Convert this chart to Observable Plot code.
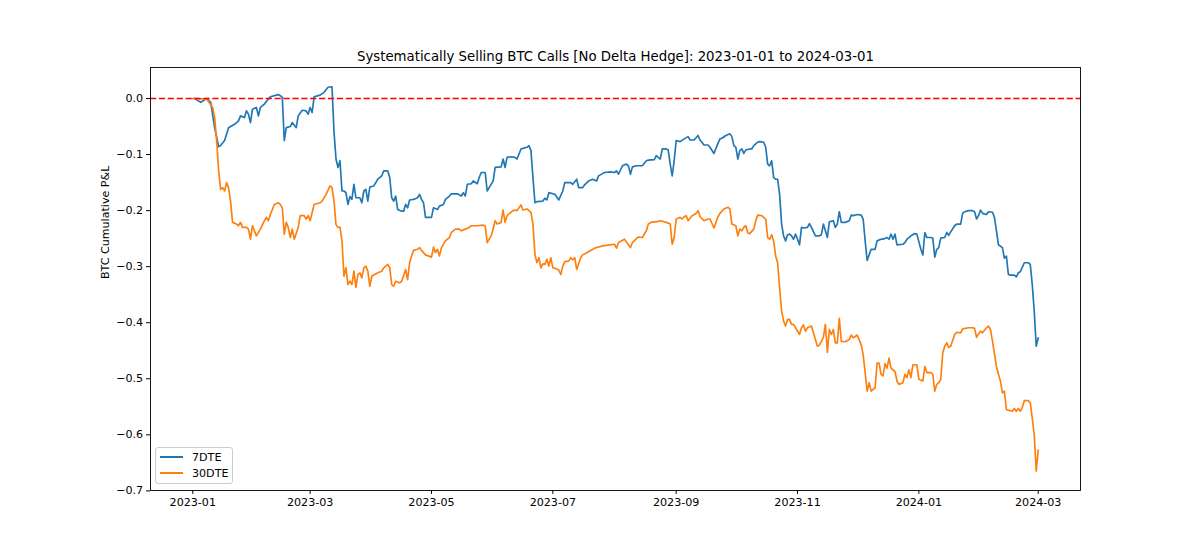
<!DOCTYPE html>
<html>
<head>
<meta charset="utf-8">
<script src="https://cdn.jsdelivr.net/npm/d3@7"></script>
<script src="https://cdn.jsdelivr.net/npm/@observablehq/plot@0.6"></script>
<style>
  body { margin: 0; background: #fff; }
  #wrap { position: relative; width: 1200px; height: 560px; font-family: "DejaVu Sans", sans-serif; }
  #legend { position: absolute; left: 155px; top: 447px; width: 78px; height: 37px; box-sizing: border-box;
            border: 1px solid #cccccc; border-radius: 3px; background: rgba(255,255,255,0.8); }
  .lrow { position: absolute; left: 4px; height: 14px; display: flex; align-items: center; font-size: 11.1px; color: #000; }
  .lline { width: 23px; height: 1.7px; margin-right: 9px; }
</style>
</head>
<body>
<div id="wrap"></div>
<script>
const chartTitle = "Systematically Selling BTC Calls [No Delta Hedge]: 2023-01-01 to 2024-03-01";
const yLabel = "BTC Cumulative P&L";
const seriesNames = ["7DTE", "30DTE"];
const seriesColors = ["#1f77b4", "#ff7f0e"];
const xTicks = ["2023-01-01", "2023-03-01", "2023-05-01", "2023-07-01", "2023-09-01", "2023-11-01", "2024-01-01", "2024-03-01"];
const yTicks = [-0.7, -0.6, -0.5, -0.4, -0.3, -0.2, -0.1, 0.0];
const refLine = [0];

const pnl7DTE = [
  ["2023-01-01",0.000],["2023-01-02",0.000],["2023-01-05",-0.007],["2023-01-08",0.000],["2023-01-10",-0.007],["2023-01-12",-0.052],["2023-01-14",-0.086],["2023-01-15",-0.084],["2023-01-17",-0.075],["2023-01-19",-0.052],["2023-01-22",-0.046],["2023-01-24",-0.040],["2023-01-25",-0.031],["2023-01-27",-0.034],["2023-01-28",-0.022],["2023-01-29",-0.028],["2023-01-30",-0.043],["2023-01-31",-0.019],
  ["2023-02-02",-0.016],["2023-02-03",-0.031],["2023-02-04",-0.016],["2023-02-06",-0.010],["2023-02-08",-0.001],["2023-02-09",0.003],["2023-02-13",0.007],["2023-02-14",0.005],["2023-02-15",0.002],["2023-02-16",-0.075],["2023-02-17",-0.052],["2023-02-19",-0.050],["2023-02-20",-0.043],["2023-02-22",-0.052],["2023-02-23",-0.031],["2023-02-25",-0.021],["2023-02-27",-0.022],["2023-02-28",-0.028],
  ["2023-03-01",-0.016],["2023-03-02",-0.025],["2023-03-03",0.003],["2023-03-06",0.006],["2023-03-08",0.011],["2023-03-10",0.020],["2023-03-12",0.021],["2023-03-13",-0.060],["2023-03-14",-0.108],["2023-03-15",-0.123],["2023-03-16",-0.111],["2023-03-17",-0.165],["2023-03-18",-0.165],["2023-03-19",-0.168],["2023-03-20",-0.189],["2023-03-21",-0.175],["2023-03-22",-0.180],["2023-03-23",-0.153],["2023-03-24",-0.177],["2023-03-26",-0.177],["2023-03-27",-0.186],["2023-03-28",-0.165],["2023-03-29",-0.162],["2023-03-30",-0.183],["2023-03-31",-0.158],
  ["2023-04-02",-0.156],["2023-04-04",-0.144],["2023-04-06",-0.138],["2023-04-07",-0.129],["2023-04-09",-0.129],["2023-04-10",-0.141],["2023-04-11",-0.177],["2023-04-12",-0.183],["2023-04-13",-0.174],["2023-04-14",-0.198],["2023-04-16",-0.201],["2023-04-17",-0.201],["2023-04-18",-0.189],["2023-04-19",-0.195],["2023-04-20",-0.181],["2023-04-22",-0.180],["2023-04-24",-0.177],["2023-04-25",-0.171],["2023-04-26",-0.180],["2023-04-27",-0.186],["2023-04-28",-0.212],
  ["2023-05-01",-0.212],["2023-05-02",-0.195],["2023-05-04",-0.198],["2023-05-05",-0.192],["2023-05-07",-0.189],["2023-05-08",-0.180],["2023-05-10",-0.174],["2023-05-11",-0.170],["2023-05-14",-0.170],["2023-05-16",-0.174],["2023-05-17",-0.168],["2023-05-18",-0.174],["2023-05-19",-0.153],["2023-05-21",-0.152],["2023-05-22",-0.147],["2023-05-24",-0.152],["2023-05-25",-0.141],["2023-05-26",-0.132],["2023-05-28",-0.132],["2023-05-29",-0.165],["2023-05-30",-0.159],
  ["2023-06-01",-0.147],["2023-06-02",-0.123],["2023-06-05",-0.122],["2023-06-06",-0.108],["2023-06-07",-0.123],["2023-06-08",-0.105],["2023-06-10",-0.104],["2023-06-12",-0.105],["2023-06-13",-0.108],["2023-06-15",-0.090],["2023-06-16",-0.089],["2023-06-18",-0.087],["2023-06-19",-0.084],["2023-06-20",-0.093],["2023-06-21",-0.141],["2023-06-22",-0.186],["2023-06-23",-0.184],["2023-06-26",-0.183],["2023-06-27",-0.178],["2023-06-28",-0.181],["2023-06-29",-0.168],
  ["2023-07-01",-0.170],["2023-07-02",-0.171],["2023-07-04",-0.181],["2023-07-06",-0.165],["2023-07-07",-0.150],["2023-07-10",-0.150],["2023-07-11",-0.153],["2023-07-13",-0.144],["2023-07-14",-0.159],["2023-07-16",-0.159],["2023-07-17",-0.154],["2023-07-19",-0.147],["2023-07-21",-0.144],["2023-07-23",-0.147],["2023-07-24",-0.138],["2023-07-26",-0.134],["2023-07-27",-0.132],["2023-07-30",-0.131],
  ["2023-08-01",-0.132],["2023-08-02",-0.129],["2023-08-03",-0.135],["2023-08-05",-0.120],["2023-08-07",-0.117],["2023-08-08",-0.120],["2023-08-09",-0.135],["2023-08-10",-0.122],["2023-08-12",-0.120],["2023-08-15",-0.120],["2023-08-17",-0.111],["2023-08-18",-0.110],["2023-08-21",-0.109],["2023-08-22",-0.102],["2023-08-24",-0.108],["2023-08-25",-0.090],["2023-08-27",-0.090],["2023-08-28",-0.092],["2023-08-29",-0.117],["2023-08-30",-0.138],["2023-08-31",-0.111],
  ["2023-09-01",-0.075],["2023-09-03",-0.077],["2023-09-05",-0.072],["2023-09-07",-0.068],["2023-09-08",-0.074],["2023-09-10",-0.074],["2023-09-12",-0.066],["2023-09-13",-0.074],["2023-09-15",-0.083],["2023-09-17",-0.083],["2023-09-18",-0.087],["2023-09-20",-0.098],["2023-09-22",-0.080],["2023-09-23",-0.072],["2023-09-24",-0.071],["2023-09-26",-0.066],["2023-09-28",-0.063],["2023-09-29",-0.068],["2023-09-30",-0.084],
  ["2023-10-01",-0.087],["2023-10-02",-0.108],["2023-10-03",-0.093],["2023-10-04",-0.090],["2023-10-05",-0.098],["2023-10-06",-0.092],["2023-10-08",-0.090],["2023-10-09",-0.090],["2023-10-10",-0.084],["2023-10-12",-0.078],["2023-10-13",-0.077],["2023-10-15",-0.078],["2023-10-16",-0.087],["2023-10-17",-0.117],["2023-10-18",-0.120],["2023-10-19",-0.111],["2023-10-20",-0.141],["2023-10-21",-0.144],["2023-10-22",-0.144],["2023-10-23",-0.171],["2023-10-24",-0.224],["2023-10-25",-0.245],["2023-10-26",-0.254],["2023-10-27",-0.243],["2023-10-28",-0.242],["2023-10-29",-0.245],["2023-10-30",-0.251],["2023-10-31",-0.242],
  ["2023-11-01",-0.251],["2023-11-02",-0.261],["2023-11-03",-0.230],["2023-11-04",-0.231],["2023-11-06",-0.230],["2023-11-07",-0.223],["2023-11-08",-0.230],["2023-11-10",-0.245],["2023-11-12",-0.245],["2023-11-13",-0.243],["2023-11-14",-0.224],["2023-11-15",-0.236],["2023-11-16",-0.248],["2023-11-17",-0.220],["2023-11-19",-0.218],["2023-11-20",-0.230],["2023-11-21",-0.224],["2023-11-22",-0.202],["2023-11-23",-0.221],["2023-11-25",-0.221],["2023-11-27",-0.218],["2023-11-28",-0.208],["2023-11-29",-0.209],
  ["2023-12-01",-0.207],["2023-12-03",-0.208],["2023-12-04",-0.215],["2023-12-05",-0.254],["2023-12-06",-0.289],["2023-12-08",-0.269],["2023-12-10",-0.269],["2023-12-11",-0.254],["2023-12-13",-0.251],["2023-12-14",-0.251],["2023-12-16",-0.248],["2023-12-17",-0.251],["2023-12-18",-0.242],["2023-12-19",-0.251],["2023-12-20",-0.242],["2023-12-21",-0.261],["2023-12-24",-0.260],["2023-12-25",-0.257],["2023-12-26",-0.251],["2023-12-27",-0.248],["2023-12-28",-0.245],["2023-12-30",-0.241],["2023-12-31",-0.242],
  ["2024-01-02",-0.269],["2024-01-03",-0.279],["2024-01-04",-0.239],["2024-01-05",-0.248],["2024-01-07",-0.248],["2024-01-08",-0.249],["2024-01-09",-0.283],["2024-01-10",-0.269],["2024-01-11",-0.266],["2024-01-12",-0.249],["2024-01-14",-0.248],["2024-01-15",-0.239],["2024-01-16",-0.244],["2024-01-17",-0.238],["2024-01-19",-0.227],["2024-01-20",-0.224],["2024-01-22",-0.224],["2024-01-23",-0.205],["2024-01-24",-0.202],["2024-01-26",-0.200],["2024-01-28",-0.200],["2024-01-29",-0.202],["2024-01-30",-0.215],["2024-01-31",-0.209],
  ["2024-02-01",-0.199],["2024-02-02",-0.205],["2024-02-04",-0.207],["2024-02-05",-0.202],["2024-02-07",-0.203],["2024-02-08",-0.212],["2024-02-09",-0.236],["2024-02-10",-0.261],["2024-02-12",-0.266],["2024-02-13",-0.285],["2024-02-14",-0.281],["2024-02-15",-0.314],["2024-02-16",-0.315],["2024-02-18",-0.315],["2024-02-19",-0.318],["2024-02-20",-0.311],["2024-02-21",-0.309],["2024-02-23",-0.293],["2024-02-25",-0.293],["2024-02-26",-0.296],["2024-02-27",-0.332],["2024-02-28",-0.380],["2024-02-29",-0.442],["2024-03-01",-0.427]
];

const pnl30DTE = [
  ["2023-01-01",0.000],["2023-01-02",0.000],["2023-01-08",-0.001],["2023-01-11",-0.016],["2023-01-12",-0.034],["2023-01-13",-0.075],["2023-01-14",-0.129],["2023-01-15",-0.162],["2023-01-16",-0.159],["2023-01-17",-0.165],["2023-01-18",-0.150],["2023-01-19",-0.159],["2023-01-20",-0.183],["2023-01-21",-0.221],["2023-01-23",-0.224],["2023-01-24",-0.227],["2023-01-25",-0.221],["2023-01-26",-0.230],["2023-01-28",-0.230],["2023-01-29",-0.233],["2023-01-30",-0.251],["2023-01-31",-0.227],
  ["2023-02-02",-0.245],["2023-02-04",-0.233],["2023-02-06",-0.218],["2023-02-07",-0.212],["2023-02-08",-0.218],["2023-02-09",-0.207],["2023-02-11",-0.189],["2023-02-13",-0.186],["2023-02-14",-0.189],["2023-02-15",-0.195],["2023-02-16",-0.242],["2023-02-17",-0.221],["2023-02-18",-0.230],["2023-02-19",-0.248],["2023-02-20",-0.233],["2023-02-21",-0.251],["2023-02-23",-0.230],["2023-02-24",-0.209],["2023-02-26",-0.209],["2023-02-27",-0.215],["2023-02-28",-0.209],
  ["2023-03-01",-0.218],["2023-03-03",-0.189],["2023-03-06",-0.186],["2023-03-07",-0.183],["2023-03-09",-0.171],["2023-03-11",-0.156],["2023-03-12",-0.159],["2023-03-13",-0.183],["2023-03-14",-0.225],["2023-03-15",-0.230],["2023-03-16",-0.230],["2023-03-17",-0.254],["2023-03-18",-0.317],["2023-03-19",-0.302],["2023-03-20",-0.332],["2023-03-21",-0.326],["2023-03-22",-0.332],["2023-03-23",-0.308],["2023-03-24",-0.337],["2023-03-25",-0.314],["2023-03-26",-0.311],["2023-03-27",-0.320],["2023-03-28",-0.302],["2023-03-29",-0.299],["2023-03-30",-0.308],["2023-03-31",-0.335],
  ["2023-04-01",-0.317],["2023-04-02",-0.315],["2023-04-04",-0.311],["2023-04-06",-0.308],["2023-04-07",-0.302],["2023-04-09",-0.296],["2023-04-10",-0.302],["2023-04-11",-0.332],["2023-04-12",-0.335],["2023-04-13",-0.326],["2023-04-15",-0.329],["2023-04-16",-0.326],["2023-04-18",-0.305],["2023-04-19",-0.323],["2023-04-20",-0.293],["2023-04-21",-0.281],["2023-04-22",-0.271],["2023-04-24",-0.269],["2023-04-25",-0.266],["2023-04-26",-0.271],["2023-04-28",-0.279],
  ["2023-05-01",-0.283],["2023-05-02",-0.265],["2023-05-03",-0.275],["2023-05-04",-0.269],["2023-05-05",-0.281],["2023-05-06",-0.266],["2023-05-08",-0.254],["2023-05-10",-0.248],["2023-05-11",-0.239],["2023-05-13",-0.233],["2023-05-15",-0.233],["2023-05-16",-0.236],["2023-05-18",-0.233],["2023-05-20",-0.230],["2023-05-21",-0.227],["2023-05-24",-0.227],["2023-05-27",-0.226],["2023-05-28",-0.227],["2023-05-29",-0.257],["2023-05-31",-0.245],
  ["2023-06-01",-0.233],["2023-06-02",-0.218],["2023-06-03",-0.224],["2023-06-05",-0.221],["2023-06-06",-0.199],["2023-06-07",-0.221],["2023-06-08",-0.209],["2023-06-09",-0.206],["2023-06-11",-0.200],["2023-06-12",-0.199],["2023-06-13",-0.200],["2023-06-15",-0.190],["2023-06-16",-0.199],["2023-06-18",-0.197],["2023-06-20",-0.203],["2023-06-21",-0.224],["2023-06-22",-0.278],["2023-06-23",-0.293],["2023-06-24",-0.284],["2023-06-25",-0.302],["2023-06-26",-0.295],["2023-06-27",-0.296],["2023-06-28",-0.287],["2023-06-29",-0.299],["2023-06-30",-0.284],
  ["2023-07-01",-0.302],["2023-07-02",-0.303],["2023-07-04",-0.306],["2023-07-05",-0.314],["2023-07-06",-0.299],["2023-07-07",-0.291],["2023-07-09",-0.290],["2023-07-10",-0.284],["2023-07-11",-0.288],["2023-07-12",-0.284],["2023-07-13",-0.305],["2023-07-15",-0.284],["2023-07-16",-0.279],["2023-07-18",-0.275],["2023-07-20",-0.271],["2023-07-22",-0.267],["2023-07-24",-0.265],["2023-07-26",-0.263],["2023-07-28",-0.262],
  ["2023-08-01",-0.260],["2023-08-02",-0.267],["2023-08-03",-0.257],["2023-08-06",-0.251],["2023-08-07",-0.256],["2023-08-09",-0.266],["2023-08-10",-0.257],["2023-08-12",-0.250],["2023-08-13",-0.247],["2023-08-15",-0.248],["2023-08-17",-0.236],["2023-08-18",-0.224],["2023-08-20",-0.220],["2023-08-22",-0.220],["2023-08-24",-0.218],["2023-08-27",-0.221],["2023-08-29",-0.224],["2023-08-30",-0.260],["2023-08-31",-0.248],
  ["2023-09-01",-0.215],["2023-09-03",-0.212],["2023-09-04",-0.215],["2023-09-05",-0.211],["2023-09-06",-0.209],["2023-09-07",-0.218],["2023-09-09",-0.209],["2023-09-11",-0.205],["2023-09-12",-0.200],["2023-09-13",-0.211],["2023-09-15",-0.218],["2023-09-17",-0.215],["2023-09-18",-0.215],["2023-09-20",-0.231],["2023-09-22",-0.211],["2023-09-23",-0.205],["2023-09-25",-0.197],["2023-09-27",-0.194],["2023-09-28",-0.197],["2023-09-29",-0.224],
  ["2023-10-01",-0.227],["2023-10-02",-0.245],["2023-10-03",-0.233],["2023-10-04",-0.236],["2023-10-05",-0.230],["2023-10-06",-0.227],["2023-10-07",-0.240],["2023-10-08",-0.241],["2023-10-10",-0.233],["2023-10-11",-0.218],["2023-10-12",-0.208],["2023-10-14",-0.209],["2023-10-16",-0.215],["2023-10-17",-0.248],["2023-10-18",-0.251],["2023-10-19",-0.243],["2023-10-20",-0.254],["2023-10-21",-0.281],["2023-10-22",-0.293],["2023-10-23",-0.338],["2023-10-24",-0.379],["2023-10-25",-0.397],["2023-10-26",-0.406],["2023-10-27",-0.394],["2023-10-28",-0.394],["2023-10-29",-0.403],["2023-10-30",-0.403],["2023-10-31",-0.409],
  ["2023-11-02",-0.421],["2023-11-03",-0.409],["2023-11-04",-0.404],["2023-11-05",-0.415],["2023-11-06",-0.409],["2023-11-08",-0.406],["2023-11-09",-0.418],["2023-11-11",-0.442],["2023-11-12",-0.440],["2023-11-14",-0.426],["2023-11-15",-0.403],["2023-11-16",-0.453],["2023-11-17",-0.412],["2023-11-18",-0.421],["2023-11-19",-0.412],["2023-11-20",-0.436],["2023-11-21",-0.436],["2023-11-22",-0.392],["2023-11-23",-0.433],["2023-11-25",-0.434],["2023-11-27",-0.430],["2023-11-28",-0.422],["2023-11-29",-0.427],
  ["2023-12-01",-0.422],["2023-12-03",-0.439],["2023-12-04",-0.457],["2023-12-05",-0.489],["2023-12-06",-0.522],["2023-12-07",-0.507],["2023-12-08",-0.522],["2023-12-10",-0.516],["2023-12-11",-0.472],["2023-12-12",-0.472],["2023-12-13",-0.492],["2023-12-14",-0.495],["2023-12-15",-0.473],["2023-12-16",-0.481],["2023-12-17",-0.463],["2023-12-18",-0.481],["2023-12-20",-0.487],["2023-12-21",-0.504],["2023-12-22",-0.510],["2023-12-24",-0.507],["2023-12-25",-0.492],["2023-12-26",-0.498],["2023-12-27",-0.484],["2023-12-28",-0.498],["2023-12-29",-0.475],["2023-12-31",-0.475],
  ["2024-01-01",-0.501],["2024-01-03",-0.504],["2024-01-04",-0.478],["2024-01-05",-0.489],["2024-01-07",-0.489],["2024-01-08",-0.492],["2024-01-09",-0.522],["2024-01-10",-0.510],["2024-01-11",-0.507],["2024-01-12",-0.501],["2024-01-13",-0.454],["2024-01-14",-0.442],["2024-01-15",-0.436],["2024-01-16",-0.444],["2024-01-17",-0.442],["2024-01-19",-0.421],["2024-01-20",-0.417],["2024-01-22",-0.418],["2024-01-23",-0.411],["2024-01-26",-0.409],["2024-01-28",-0.409],["2024-01-29",-0.410],["2024-01-30",-0.426],["2024-01-31",-0.420],
  ["2024-02-01",-0.415],["2024-02-02",-0.418],["2024-02-04",-0.409],["2024-02-05",-0.406],["2024-02-06",-0.412],["2024-02-07",-0.433],["2024-02-09",-0.478],["2024-02-10",-0.492],["2024-02-11",-0.504],["2024-02-12",-0.525],["2024-02-13",-0.522],["2024-02-14",-0.555],["2024-02-16",-0.557],["2024-02-17",-0.558],["2024-02-18",-0.553],["2024-02-19",-0.558],["2024-02-20",-0.553],["2024-02-21",-0.558],["2024-02-22",-0.551],["2024-02-23",-0.539],["2024-02-25",-0.539],["2024-02-26",-0.543],["2024-02-27",-0.570],["2024-02-28",-0.600],["2024-02-29",-0.665],["2024-03-01",-0.627]
];

const parse = d3.utcParse("%Y-%m-%d");
const rows = [
  ...pnl7DTE.map(([d, v]) => ({date: parse(d), pnl: v, series: seriesNames[0]})),
  ...pnl30DTE.map(([d, v]) => ({date: parse(d), pnl: v, series: seriesNames[1]}))
];

// matplotlib-style 5% margins around the data extent
const [x0, x1] = d3.extent(rows, d => d.date);
const xPad = (x1 - x0) * 0.05;
const xDomain = [new Date(+x0 - xPad), new Date(+x1 + xPad)];
const [y0, y1] = d3.extent([...rows.map(d => d.pnl), ...refLine]);
const yPad = (y1 - y0) * 0.05;
const yDomain = [y0 - yPad, y1 + yPad];

const chart = Plot.plot({
  width: 1200,
  height: 560,
  marginLeft: 150,
  marginRight: 120,
  marginTop: 67,
  marginBottom: 70,
  style: {fontFamily: "DejaVu Sans, sans-serif", fontSize: "11.1px", color: "#000", background: "#fff"},
  x: {type: "utc", domain: xDomain},
  y: {domain: yDomain},
  color: {domain: seriesNames, range: seriesColors},
  marks: [
    Plot.line(rows, {x: "date", y: "pnl", z: "series", stroke: "series", strokeWidth: 1.67, strokeLinejoin: "round"}),
    Plot.ruleY(refLine, {stroke: "red", strokeWidth: 1.67, strokeDasharray: "6.2,2.7"}),
    Plot.frame({stroke: "#000", strokeWidth: 0.9}),
    Plot.axisX({ticks: xTicks.map(parse), tickFormat: d3.utcFormat("%Y-%m"), tickSize: 3.9, tickPadding: 3.5, label: null}),
    Plot.axisY({ticks: yTicks, tickFormat: d3.format(".1f"), tickSize: 3.9, tickPadding: 3.5, label: null}),
    Plot.text([yLabel], {frameAnchor: "left", dx: -45, rotate: -90, fontSize: 11.1}),
    Plot.text([chartTitle], {frameAnchor: "top", dy: -7, lineAnchor: "bottom", fontSize: 13.3})
  ]
});

const wrap = document.getElementById("wrap");
wrap.appendChild(chart);
chart.style.position = "absolute";
chart.style.left = "0px";
chart.style.top = "0px";

const legend = document.createElement("div");
legend.id = "legend";
seriesNames.forEach((name, i) => {
  const row = document.createElement("div");
  row.className = "lrow";
  row.style.top = (2 + i * 16) + "px";
  const ln = document.createElement("span");
  ln.className = "lline";
  ln.style.background = seriesColors[i];
  const tx = document.createElement("span");
  tx.textContent = name;
  row.appendChild(ln);
  row.appendChild(tx);
  legend.appendChild(row);
});
wrap.appendChild(legend);
</script>
</body>
</html>
